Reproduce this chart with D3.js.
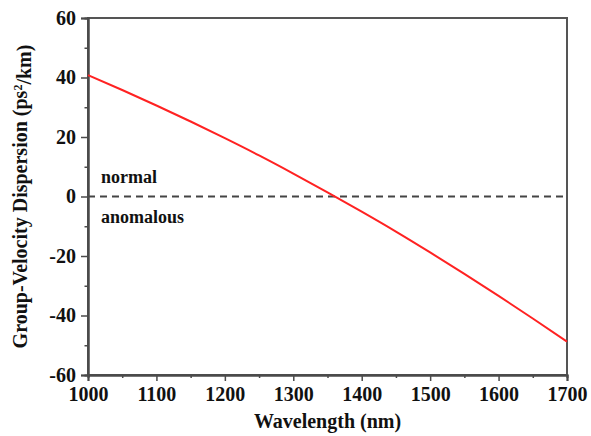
<!DOCTYPE html>
<html><head><meta charset="utf-8">
<script src="https://cdn.jsdelivr.net/npm/d3@7"></script>
<style>body{margin:0;background:#fff}svg{display:block}</style>
</head><body><svg id="c" width="591" height="436"></svg>
<script>
const wavelength = [1000,1050,1100,1150,1200,1250,1300,1350,1400,1450,1500,1550,1600,1650,1700];
const gvd = [40.8,35.8,30.6,25.2,19.6,13.8,7.7,1.4,-5.1,-11.8,-18.8,-26.0,-33.4,-41.0,-48.8];
const xTicks = [1000,1100,1200,1300,1400,1500,1600,1700];
const xMinor = [1050,1150,1250,1350,1450,1550,1650];
const yTicks = [-60,-40,-20,0,20,40,60];
const yMinor = [-50,-30,-10,10,30,50];
const labels = [{text:"normal", y:"above"},{text:"anomalous", y:"below"}];

const svg = d3.select("#c");
const L=88,R=567,T=18,B=375;
const x = d3.scaleLinear().domain([1000,1700]).range([L,R]);
const y = d3.scaleLinear().domain([-60,60]).range([B,T]);
const font = "'Liberation Serif','Times New Roman',serif";
const axCol = "#4a4a4a";
const fmt = d => String(d);

// frame
svg.append("rect").attr("x",L).attr("y",T).attr("width",R-L).attr("height",B-T)
  .attr("fill","none").attr("stroke","#555").attr("stroke-width",2);

// zero dashed line
svg.append("line").attr("x1",L).attr("x2",R).attr("y1",y(0)).attr("y2",y(0))
  .attr("stroke","#444").attr("stroke-width",2).attr("stroke-dasharray","7,5");

// axes
const xa = svg.append("g").attr("transform",`translate(0,${B})`)
  .call(d3.axisBottom(x).tickValues(xTicks).tickSize(6).tickPadding(6).tickFormat(fmt));
const xm = svg.append("g").attr("transform",`translate(0,${B})`)
  .call(d3.axisBottom(x).tickValues(xMinor).tickSize(3).tickFormat(""));
const ya = svg.append("g").attr("transform",`translate(${L},0)`)
  .call(d3.axisLeft(y).tickValues(yTicks).tickSize(7).tickPadding(5).tickFormat(fmt));
const ym = svg.append("g").attr("transform",`translate(${L},0)`)
  .call(d3.axisLeft(y).tickValues(yMinor).tickSize(3.5).tickFormat(""));
[xa,xm,ya,ym].forEach(g=>{
  g.select(".domain").attr("stroke",axCol).attr("stroke-width",2);
  g.selectAll(".tick line").attr("stroke",axCol).attr("stroke-width",1.5);
  g.selectAll("text").attr("fill","#111").style("font-family",font).style("font-weight","bold").style("font-size","20px");
});
xa.selectAll("text").attr("dy","0.72em");

// curve
svg.append("path").datum(wavelength.map((w,i)=>[w,gvd[i]]))
  .attr("d",d3.line().x(d=>x(d[0])).y(d=>y(d[1])).curve(d3.curveMonotoneX))
  .attr("fill","none").attr("stroke","#f22").attr("stroke-width",2);

// labels
svg.append("text").attr("x",(L+R)/2).attr("y",428).attr("text-anchor","middle")
  .style("font-family",font).style("font-weight","bold").style("font-size","20px").attr("fill","#111")
  .text("Wavelength (nm)");
const yt = svg.append("text").attr("transform",`translate(27,${(T+B)/2}) rotate(-90)`).attr("text-anchor","middle")
  .style("font-family",font).style("font-weight","bold").style("font-size","20px").attr("fill","#111");
yt.append("tspan").text("Group-Velocity Dispersion (ps");
yt.append("tspan").attr("dy","-0.45em").style("font-size","12px").text("2");
yt.append("tspan").attr("dy","0.45em").text("/km)");

labels.forEach(l=>{
  svg.append("text").attr("x",101).attr("y", l.y==="above" ? y(0)-14 : y(0)+26)
    .style("font-family",font).style("font-weight","bold").style("font-size","18px").attr("fill","#111")
    .text(l.text);
});
</script></body></html>
